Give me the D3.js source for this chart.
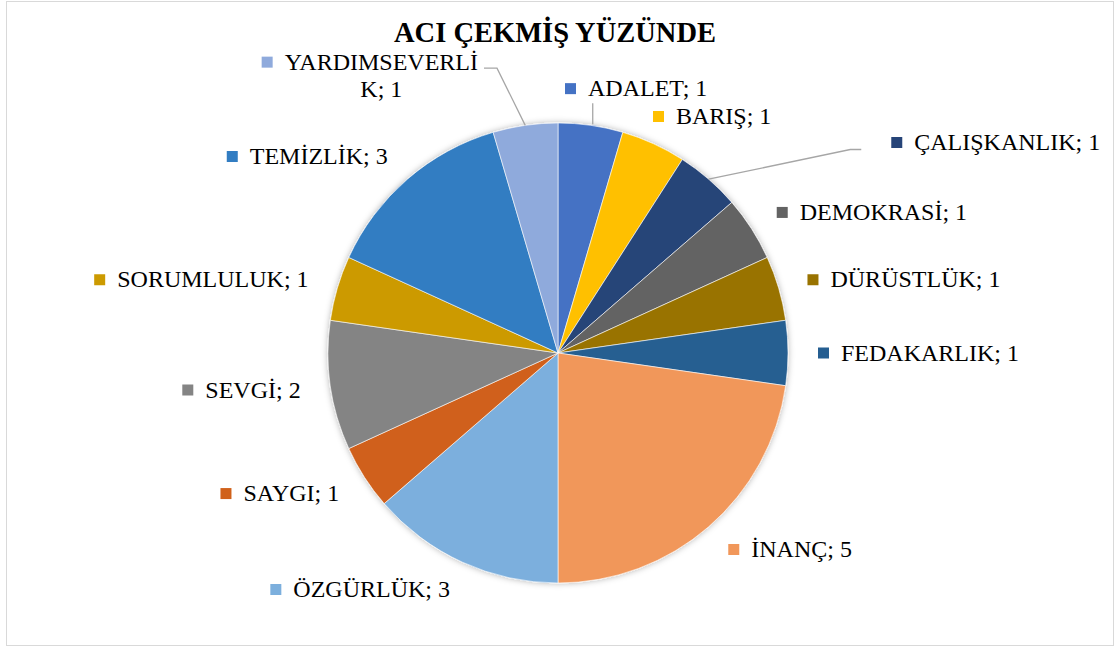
<!DOCTYPE html>
<html>
<head>
<meta charset="utf-8">
<script src="https://cdn.jsdelivr.net/npm/d3@7"></script>
<style>
  body { margin: 0; background: #fff; }
  svg { display: block; }
  text { font-family: "Liberation Serif", "Times New Roman", serif; fill: #000; }
</style>
</head>
<body>
<svg id="chart" width="1119" height="647"></svg>
<script>
var categories = ["ADALET", "BARIŞ", "ÇALIŞKANLIK", "DEMOKRASİ", "DÜRÜSTLÜK", "FEDAKARLIK",
                  "İNANÇ", "ÖZGÜRLÜK", "SAYGI", "SEVGİ", "SORUMLULUK", "TEMİZLİK", "YARDIMSEVERLİK"];
var values = [1, 1, 1, 1, 1, 1, 5, 3, 1, 2, 1, 3, 1];
var colors = ["#4472C4", "#FFC000", "#264478", "#636363", "#997300", "#255E91",
              "#F1975A", "#7CAFDD", "#D0611A", "#848484", "#CC9A00", "#327DC2", "#8FAADC"];
var title = "ACI ÇEKMİŞ YÜZÜNDE";

// labels Excel moved by hand (offset from the default spot), the ones with a leader line, wrapped labels
var labelMoves = { "ADALET": [-30, -7], "BARIŞ": [-13, 0], "ÇALIŞKANLIK": [163, -14], "YARDIMSEVERLİK": [-43, -20] };
var leaderLabels = ["ADALET", "ÇALIŞKANLIK", "YARDIMSEVERLİK"];
var labelWrap = { "YARDIMSEVERLİK": 13 };

var width = 1119, height = 647;
var cx = 558, cy = 353, r = 230;
var fontSize = 24, lineH = 27;

var svg = d3.select("#chart");

svg.append("rect")
    .attr("x", 6.5).attr("y", 1.5)
    .attr("width", 1107).attr("height", 644)
    .attr("fill", "#fff")
    .attr("stroke", "#d9d9d9");

var defs = svg.append("defs");
defs.append("filter").attr("id", "shadow")
    .attr("x", "-10%").attr("y", "-10%").attr("width", "120%").attr("height", "120%")
  .append("feDropShadow")
    .attr("dx", 0).attr("dy", 0)
    .attr("stdDeviation", 3)
    .attr("flood-color", "#000").attr("flood-opacity", 0.3);

svg.append("text")
    .attr("x", 555).attr("y", 42)
    .attr("text-anchor", "middle")
    .style("font-size", "28.5px")
    .style("font-weight", "bold")
    .text(title);

var data = categories.map(function (c, i) { return { name: c, value: values[i], color: colors[i] }; });

var pie = d3.pie().sort(null).value(function (d) { return d.value; });
var arcs = pie(data);

var arc = d3.arc().innerRadius(0).outerRadius(r);
var edgeArc = d3.arc().innerRadius(r).outerRadius(r);
var labelArc = d3.arc().innerRadius(r + 30).outerRadius(r + 30);

var g = svg.append("g").attr("transform", "translate(" + cx + "," + cy + ")");

g.append("g").attr("filter", "url(#shadow)")
  .selectAll("path")
    .data(arcs)
  .enter()
    .append("path")
    .attr("d", arc)
    .attr("fill", function (d) { return d.data.color; })
    .attr("stroke", "#fff")
    .attr("stroke-width", 0.6);

var leaders = g.append("g");
var labels = g.append("g");

arcs.forEach(function (d) {
    var name = d.data.name;
    var full = name + "; " + d.data.value;
    var lines = [full];
    if (labelWrap[name]) lines = [full.slice(0, labelWrap[name]), full.slice(labelWrap[name])];

    var lg = labels.append("g");
    var sq = lg.append("rect")
        .attr("width", 11).attr("height", 11)
        .attr("fill", d.data.color);
    var texts = lines.map(function (t) {
        return lg.append("text").style("font-size", fontSize + "px").text(t);
    });
    var widths = texts.map(function (t) { return t.node().getComputedTextLength(); });
    var textW = d3.max(widths);
    var boxW = 23 + textW;
    var boxH = lines.length * lineH;

    var mid = (d.startAngle + d.endAngle) / 2;
    var right = mid < Math.PI;
    var p = labelArc.centroid(d);
    var mv = labelMoves[name] || [0, 0];
    var ax = p[0] + mv[0], ay = p[1] + mv[1];
    var left = right ? ax : ax - boxW;
    var top = ay - boxH / 2;

    sq.attr("x", left).attr("y", top + lineH / 2 - 5.5);
    texts.forEach(function (t, i) {
        var tx = left + 23 + (textW - widths[i]) / 2;
        t.attr("x", tx).attr("y", top + lineH / 2 + 7.5 + i * lineH);
    });

    if (leaderLabels.indexOf(name) >= 0) {
        var e = edgeArc.centroid(d);
        var pts;
        if (name === "ADALET") {
            pts = [[e[0] + 2, e[1] - 1], [e[0] + 2, top + boxH + 1]];
        } else if (right) {
            var ey = top + lineH / 2 + 7;
            pts = [e, [left - 41, ey], [left - 30, ey]];
        } else {
            var ly = top + lineH / 2 + 6;
            var lx = left + boxW + 6;
            pts = [e, [lx + 13, ly], [lx, ly]];
        }
        leaders.append("path")
            .attr("d", d3.line()(pts))
            .attr("fill", "none")
            .attr("stroke", "#a6a6a6")
            .attr("stroke-width", 1.3);
    }
});
</script>
</body>
</html>
